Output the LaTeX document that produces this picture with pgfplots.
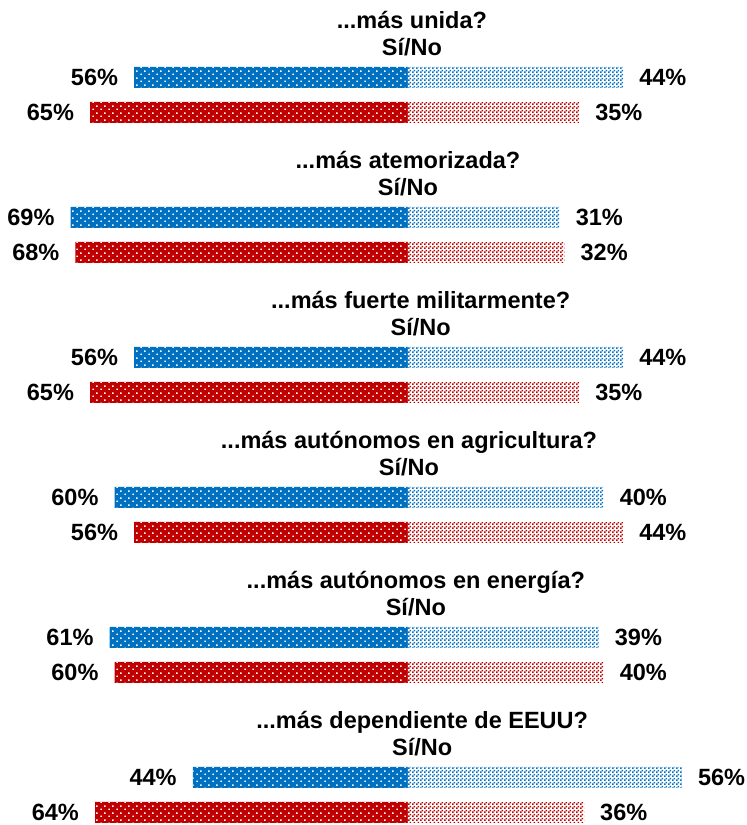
\documentclass[border=0pt]{standalone}
\usepackage{fontspec}
\setmainfont{Liberation Sans}
\usepackage{pgfplots}
\pgfplotsset{compat=1.18}
\usetikzlibrary{patterns.meta}
\definecolor{cBlue}{RGB}{0,112,192}
\definecolor{cRed}{RGB}{192,0,0}

% white dots on the "Si" side
\tikzdeclarepattern{
  name=dotgrid, type=uncolored,
  bounding box={(0,0) and (8.4pt,7pt)},
  tile size={(8.4pt,7pt)},
  code={
    \fill (1.4pt,1.2pt) rectangle ++(1.6pt,1.6pt);
    \fill (5.6pt,4.7pt) rectangle ++(1.6pt,1.6pt);
  }
}
% fine checker on the "No" side
\tikzdeclarepattern{
  name=checker, type=uncolored,
  bounding box={(0,0) and (4pt,4pt)},
  tile size={(4pt,4pt)},
  code={
    \fill (0,0) rectangle (2pt,2pt);
    \fill (2pt,2pt) rectangle (4pt,4pt);
  }
}

\newcommand\lbl{\fontsize{23.5}{28}\selectfont\bfseries}

\begin{document}
\begin{tikzpicture}
\begin{axis}[
    width=747pt, height=825pt, scale only axis,
    xmin=-83.44, xmax=69.33, ymin=-828, ymax=-3,
    hide axis, clip=false,
    xbar, bar shift=0pt, bar width=21,
    point meta=explicit,
    /pgf/number format/assume math mode=true,
    nodes near coords={\pgfmathprintnumber{\pgfplotspointmeta}\%},
    every node near coord/.append style={font=\lbl, text=black, inner sep=0pt},
]
  \path (axis cs:-83.44,-828) rectangle (axis cs:69.33,-3);

  % blue, Si
  \addplot[draw=none, fill=cBlue, postaction={pattern=dotgrid, pattern color=white},
    every node near coord/.append style={anchor=east, xshift=-16pt}]
    coordinates {(-56,-80.5) [56] (-69,-220.5) [69] (-56,-360.5) [56]
                 (-60,-500.5) [60] (-61,-640.5) [61] (-44,-780.5) [44]};
  % blue, No
  \addplot[draw=none, fill=white, postaction={pattern=checker, pattern color=cBlue},
    every node near coord/.append style={anchor=west, xshift=16pt}]
    coordinates {(44,-80.5) [44] (31,-220.5) [31] (44,-360.5) [44]
                 (40,-500.5) [40] (39,-640.5) [39] (56,-780.5) [56]};
  % red, Si
  \addplot[draw=none, fill=cRed, postaction={pattern=dotgrid, pattern color=white},
    every node near coord/.append style={anchor=east, xshift=-16pt}]
    coordinates {(-65,-115.5) [65] (-68,-255.5) [68] (-65,-395.5) [65]
                 (-56,-535.5) [56] (-60,-675.5) [60] (-64,-815.5) [64]};
  % red, No
  \addplot[draw=none, fill=white, postaction={pattern=checker, pattern color=cRed},
    every node near coord/.append style={anchor=west, xshift=16pt}]
    coordinates {(35,-115.5) [35] (32,-255.5) [32] (35,-395.5) [35]
                 (44,-535.5) [44] (40,-675.5) [40] (36,-815.5) [36]};

  % question titles
  \begin{scope}[every node/.style={anchor=base, font=\lbl, inner sep=0pt}]
    \node at (axis cs:0.8,-32)  {...más unida?};
    \node at (axis cs:0.8,-59)  {Sí/No};
    \node at (axis cs:0,-172)   {...más atemorizada?};
    \node at (axis cs:0,-199)   {Sí/No};
    \node at (axis cs:2.6,-312) {...más fuerte militarmente?};
    \node at (axis cs:2.6,-339) {Sí/No};
    \node at (axis cs:0.2,-452) {...más autónomos en agricultura?};
    \node at (axis cs:0.2,-479) {Sí/No};
    \node at (axis cs:1.6,-592) {...más autónomos en energía?};
    \node at (axis cs:1.6,-619) {Sí/No};
    \node at (axis cs:2.9,-732) {...más dependiente de EEUU?};
    \node at (axis cs:2.9,-759) {Sí/No};
  \end{scope}
\end{axis}
\end{tikzpicture}
\end{document}
